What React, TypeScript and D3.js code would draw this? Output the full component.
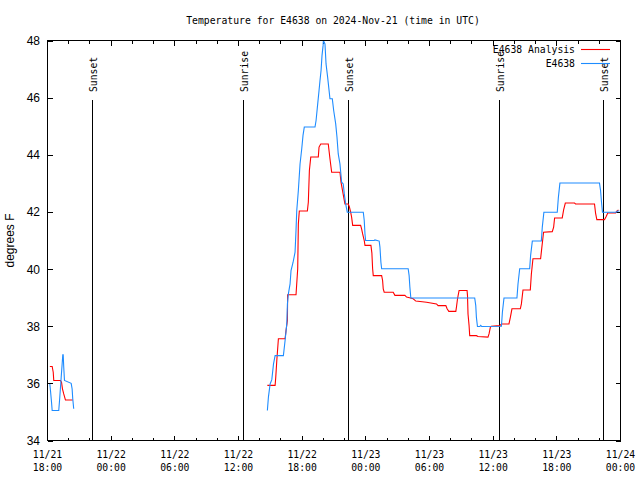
import React from 'react';
import * as d3 from 'd3';

const START = Date.UTC(2024, 10, 21, 18, 0);
const END = Date.UTC(2024, 10, 24, 0, 0);

// hours since 2024-11-21 18:00 UTC; null = gap in data
const redHours = [0.22, 0.44, 0.54, 0.59, 1.22, 1.32, 1.41, 1.53, 1.69, 2.38, 10,
  20.72, 21.45, 21.51, 21.61, 21.76, 22.39, 22.48, 22.61, 22.63, 23.42, 23.58, 23.64, 23.73, 24.49, 24.58, 24.68, 24.81,
  25.52, 25.59, 25.75, 26.46, 26.62, 26.78, 27.56, 27.66, 28.03, 28.34, 28.44, 28.57, 28.66, 28.76, 29.51, 29.60,
  29.70, 29.85, 29.92, 30.48, 30.57, 30.64, 30.70, 31.49, 31.58, 31.64, 31.73, 32.58, 32.74, 33.68, 33.84, 34.21,
  34.46, 34.71, 35.72, 36.66, 36.81, 37.54, 37.66, 37.82, 38.48, 38.54, 38.64, 38.76, 38.79, 39.54, 39.58, 39.63,
  39.73, 39.79, 40.42, 40.57, 41.51, 41.61, 41.74, 41.83, 42.62, 42.78, 43.49, 43.62, 43.77, 44.56, 44.66, 44.81,
  45.50, 45.60, 45.75, 46.47, 46.59, 46.75, 47.57, 47.70, 47.79, 48.51, 48.64, 48.80, 49.67, 49.76, 51.55, 51.65,
  51.77, 52.49, 52.65, 52.80, 53.53, 53.65, 53.81];
const redTemps = [36.59, 36.59, 36.39, 36.10, 36.10, 36.04, 35.81, 35.63, 35.42, 35.42, null,
  35.93, 35.93, 36.21, 36.80, 37.56, 37.56, 37.85, 38.20, 39.10, 39.10, 40.01, 41.58, 42.03, 42.03, 42.34, 43.45, 43.92,
  43.92, 44.27, 44.38, 44.38, 43.86, 43.39, 43.39, 43.04, 42.28, 42.28, 42.19, 41.99, 41.82, 41.53, 41.53, 41.41,
  41.23, 41.00, 40.83, 40.83, 40.56, 40.01, 39.77, 39.77, 39.60, 39.31, 39.19, 39.19, 39.08, 39.08, 39.02, 38.99,
  38.96, 38.88, 38.84, 38.78, 38.72, 38.72, 38.61, 38.52, 38.52, 38.67, 38.96, 39.19, 39.25, 39.25, 39.08, 38.43,
  38.02, 37.67, 37.67, 37.64, 37.62, 37.73, 37.97, 38.00, 38.02, 38.08, 38.08, 38.31, 38.61, 38.61, 38.78, 39.27,
  39.27, 39.83, 40.36, 40.36, 40.77, 41.29, 41.31, 41.47, 41.79, 41.79, 42.07, 42.31, 42.31, 42.28, 42.28, 41.96,
  41.73, 41.73, 41.84, 41.96, 41.96, 42.03, 42.07];

const blueHours = [0.22, 0.28, 0.38, 0.44, 0.97, 1.06, 1.16, 1.29, 1.38, 1.44, 1.48, 1.53, 1.60, 2.23, 2.32, 2.38, 2.47, 10,
  20.72, 20.82, 20.98, 21.14, 21.30, 21.45, 22.23, 22.39, 22.55, 22.61, 22.70, 22.86, 22.95, 23.14, 23.33, 23.42,
  23.49, 23.64, 23.80, 23.96, 24.08, 24.20, 25.21, 25.31, 25.45, 25.59, 25.68, 25.78, 25.87, 25.97, 26.00, 26.15,
  26.25, 26.40, 26.62, 26.84, 26.97, 27.16, 27.28, 27.40, 27.56, 27.72, 27.87, 27.97, 28.10, 28.25, 29.76, 29.85,
  29.92, 29.98, 30.79, 30.86, 31.26, 31.33, 31.42, 31.49, 33.99, 34.08, 34.15, 34.24, 40.26, 40.36, 40.42, 40.52,
  40.74, 40.83, 40.92, 42.78, 42.87, 43.02, 44.24, 44.34, 44.50, 45.44, 45.53, 45.69, 46.54, 46.63, 46.78, 48.04,
  48.14, 48.29, 52.02, 52.12, 52.21, 52.30, 53.59, 53.74, 53.90];
const blueTemps = [35.98, 35.75, 35.34, 35.05, 35.05, 35.05, 35.52, 36.21, 36.68, 37.00, 37.00, 36.57, 36.10, 36.00, 35.81, 35.46, 35.11, null,
  35.05, 35.52, 35.98, 36.13, 36.68, 36.97, 36.97, 37.50, 38.08, 38.78, 39.13, 39.48, 39.95, 40.23, 40.59, 41.35,
  42.05, 42.75, 43.68, 44.21, 44.68, 44.97, 44.97, 45.20, 45.73, 46.25, 46.60, 46.95, 47.47, 47.82, 48.00, 47.88,
  47.18, 46.72, 45.96, 45.96, 45.55, 45.08, 44.62, 44.03, 43.68, 43.04, 42.98, 42.63, 42.28, 41.99, 41.99, 41.70,
  41.23, 41.00, 41.00, 41.02, 40.98, 40.77, 40.24, 40.01, 40.01, 39.77, 39.37, 38.99, 38.99, 38.72, 38.31, 37.99,
  37.99, 38.03, 37.99, 38.00, 38.49, 38.99, 38.99, 39.48, 40.01, 40.01, 40.48, 40.98, 40.98, 41.47, 41.99, 41.99,
  42.49, 43.01, 43.01, 42.75, 42.34, 41.99, 41.99, 42.03, 42.03];

const yTicks = [34, 36, 38, 40, 42, 44, 46, 48];
const eventLabels = ['Sunset', 'Sunrise', 'Sunset', 'Sunrise', 'Sunset'];
const eventTimes = ['2024-11-21T22:16:00Z', '2024-11-22T12:28:00Z', '2024-11-22T22:20:00Z', '2024-11-23T12:33:00Z', '2024-11-23T22:22:00Z'];
const seriesNames = ['E4638 Analysis', 'E4638'];
const seriesColors = ['#ff0000', '#1e8cff'];

const MONO = '"DejaVu Sans Mono", "Liberation Mono", monospace';
const SANS = '"Liberation Sans", Arial, sans-serif';

export default function App() {
  const L = 47.5, R = 620.5, T = 40.5, B = 440.5;
  const x = d3.scaleUtc().domain([new Date(START), new Date(END)]).range([L, R]);
  const y = d3.scaleLinear().domain([34, 48]).range([B, T]);
  const toDate = (h: number) => new Date(START + h * 3600000);

  const line = d3.line<[number, number | null]>()
    .defined(d => d[1] !== null)
    .x(d => x(toDate(d[0])))
    .y(d => y(d[1] as number));

  const redData = redHours.map((h, i) => [h, redTemps[i]] as [number, number | null]);
  const blueData = blueHours.map((h, i) => [h, blueTemps[i]] as [number, number | null]);

  const xTicks = d3.utcHour.every(2)!.range(new Date(START), new Date(END + 1));
  const fmtDay = d3.utcFormat('%m/%d');
  const fmtTime = d3.utcFormat('%H:%M');

  return (
    <svg width={640} height={480} style={{ position: 'absolute', left: 0, top: 0 }}>
      <rect x={0} y={0} width={640} height={480} fill="#fff" />
      <text x={333} y={24} textAnchor="middle" fontFamily={MONO} fontSize={9.75} fill="#000">
        Temperature for E4638 on 2024-Nov-21 (time in UTC)
      </text>
      {/* y ticks */}
      <g shapeRendering="crispEdges" stroke="#000">
        {yTicks.map(t => (
          <g key={t}>
            <line x1={L} x2={L + 5} y1={Math.round(y(t)) + 0.5} y2={Math.round(y(t)) + 0.5} />
            <line x1={R} x2={R - 5} y1={Math.round(y(t)) + 0.5} y2={Math.round(y(t)) + 0.5} />
          </g>
        ))}
        {xTicks.map(t => {
          const major = t.getUTCHours() % 6 === 0;
          const len = major ? 5 : 3;
          const xx = Math.round(x(t) - 0.5) + 0.5;
          return (
            <g key={t.getTime()}>
              <line x1={xx} x2={xx} y1={B} y2={B - len} />
              <line x1={xx} x2={xx} y1={T} y2={T + len} />
            </g>
          );
        })}
      </g>
      {yTicks.map(t => (
        <text key={t} x={40} y={y(t) + 4.5} textAnchor="end" fontFamily={SANS} fontSize={12} fill="#000">{t}</text>
      ))}
      {xTicks.filter(t => t.getUTCHours() % 6 === 0).map(t => (
        <g key={t.getTime()}>
          <text x={x(t)} y={458} textAnchor="middle" fontFamily={MONO} fontSize={9.75} fill="#000">{fmtDay(t)}</text>
          <text x={x(t)} y={471} textAnchor="middle" fontFamily={MONO} fontSize={9.75} fill="#000">{fmtTime(t)}</text>
        </g>
      ))}
      <text transform={`translate(14,${(T + B) / 2}) rotate(-90)`} textAnchor="middle" fontFamily={SANS} fontSize={12} fill="#000">
        degrees F
      </text>
      {/* sunrise / sunset */}
      {eventTimes.map((s, i) => {
        const xx = Math.round(x(new Date(s)) - 0.5) + 0.5;
        return (
          <g key={i}>
            <line x1={xx} x2={xx} y1={100} y2={B} stroke="#000" shapeRendering="crispEdges" />
            <text transform={`translate(${xx + 4},92) rotate(-90)`} textAnchor="start" fontFamily={MONO} fontSize={9.75} fill="#000">
              {eventLabels[i]}
            </text>
          </g>
        );
      })}
      {/* data */}
      <path d={line(redData) || ''} fill="none" stroke={seriesColors[0]} strokeWidth={1.1} />
      <path d={line(blueData) || ''} fill="none" stroke={seriesColors[1]} strokeWidth={1.1} />
      {/* legend */}
      {seriesNames.map((n, i) => (
        <g key={n}>
          <text x={575} y={53 + i * 14} textAnchor="end" fontFamily={MONO} fontSize={9.75} fill="#000">{n}</text>
          <line x1={581} x2={610} y1={49.5 + i * 14} y2={49.5 + i * 14} stroke={seriesColors[i]} strokeWidth={1.1} />
        </g>
      ))}
      <rect x={L} y={T} width={R - L} height={B - T} fill="none" stroke="#000" shapeRendering="crispEdges" />
    </svg>
  );
}
